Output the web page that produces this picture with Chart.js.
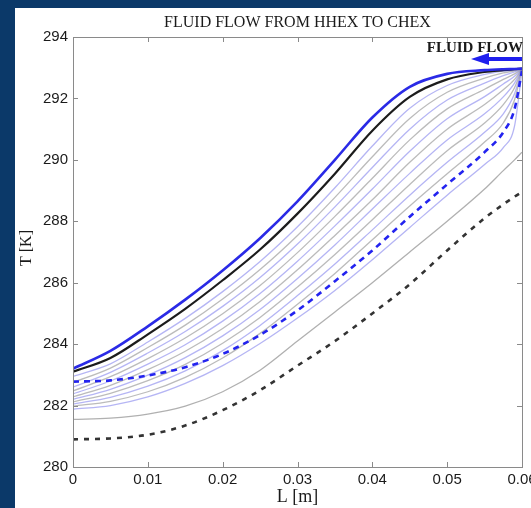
<!DOCTYPE html>
<html>
<head>
<meta charset="utf-8">
<script src="https://cdn.jsdelivr.net/npm/chart.js@4.4.1/dist/chart.umd.min.js"></script>
<style>
  html, body { margin: 0; padding: 0; background: #0b3969; }
</style>
</head>
<body>
<canvas id="chart" width="531" height="508"></canvas>
<script>
// Temperature profiles along the regenerator, flow from HHEX to CHEX
var xPos = [0, 0.005, 0.01, 0.015, 0.02, 0.025, 0.03, 0.035, 0.04, 0.045, 0.05, 0.055, 0.0575, 0.059, 0.06];
var xTicks = [0, 0.01, 0.02, 0.03, 0.04, 0.05, 0.06];
var yTicks = [280, 282, 284, 286, 288, 290, 292, 294];

// heavy curves
var tBlueTop   = [283.2, 283.78, 284.58, 285.45, 286.4, 287.45, 288.65, 290.0, 291.38, 292.38, 292.8, 292.92, 292.95, 292.96, 292.97];
var tBlack     = [283.1, 283.55, 284.32, 285.15, 286.08, 287.08, 288.25, 289.55, 290.95, 292.05, 292.62, 292.86, 292.92, 292.95, 292.97];
var tBlueDash  = [282.78, 282.82, 282.98, 283.25, 283.68, 284.3, 285.1, 286.05, 287.05, 288.15, 289.2, 290.25, 290.9, 291.65, 292.9];
var tGrayLow   = [281.55, 281.59, 281.72, 281.98, 282.45, 283.15, 284.1, 285.05, 286.0, 287.0, 288.0, 289.05, 289.65, 290.0, 290.25];
var tBlackDash = [280.9, 280.93, 281.05, 281.35, 281.85, 282.5, 283.3, 284.1, 285.0, 285.95, 287.05, 288.1, 288.55, 288.8, 288.95];

// thin intermediate curves (top to bottom)
var tFan1  = [282.95, 283.36, 284.07, 284.84, 285.71, 286.69, 287.82, 289.09, 290.45, 291.68, 292.42, 292.78, 292.89, 292.93, 292.96];
var tFan2  = [282.75, 283.22, 283.89, 284.62, 285.47, 286.43, 287.54, 288.78, 290.1, 291.35, 292.2, 292.66, 292.83, 292.9, 292.96];
var tFan3  = [282.6, 283.08, 283.71, 284.41, 285.23, 286.17, 287.26, 288.47, 289.75, 291.0, 291.95, 292.5, 292.74, 292.86, 292.96];
var tFan4  = [282.48, 282.94, 283.53, 284.2, 284.99, 285.91, 286.98, 288.16, 289.4, 290.65, 291.66, 292.3, 292.62, 292.8, 292.96];
var tFan5  = [282.38, 282.8, 283.35, 283.98, 284.75, 285.65, 286.7, 287.85, 289.05, 290.28, 291.34, 292.06, 292.47, 292.72, 292.96];
var tFan6  = [282.28, 282.66, 283.17, 283.77, 284.51, 285.39, 286.42, 287.54, 288.7, 289.92, 291.0, 291.8, 292.28, 292.62, 292.96];
var tFan7  = [282.2, 282.53, 282.99, 283.56, 284.27, 285.13, 286.14, 287.23, 288.4, 289.56, 290.65, 291.5, 292.05, 292.5, 292.96];
var tFan8  = [282.12, 282.4, 282.81, 283.34, 284.03, 284.87, 285.86, 286.92, 288.05, 289.2, 290.3, 291.2, 291.8, 292.35, 292.96];
var tFan9  = [282.05, 282.27, 282.63, 283.13, 283.79, 284.61, 285.58, 286.61, 287.72, 288.85, 289.92, 290.9, 291.5, 292.15, 292.96];
var tFan10 = [281.98, 282.14, 282.45, 282.92, 283.55, 284.35, 285.3, 286.3, 287.4, 288.5, 289.55, 290.58, 291.2, 291.95, 292.96];
var tFan11 = [281.88, 282.0, 282.28, 282.72, 283.3, 284.02, 284.85, 285.75, 286.75, 287.8, 288.85, 289.85, 290.4, 291.1, 292.9];

var fanCurves = [tFan1, tFan2, tFan3, tFan4, tFan5, tFan6, tFan7, tFan8, tFan9, tFan10, tFan11];

var NAVY = '#0b3969';
var BOX = '#8a8a8a';

function pts(ys) {
  return xPos.map(function(x, i) { return { x: x, y: ys[i] }; });
}

function line(ys, color, width, dash) {
  return {
    data: pts(ys),
    borderColor: color,
    borderWidth: width,
    borderDash: dash || [],
    pointRadius: 0,
    fill: false,
    cubicInterpolationMode: 'monotone'
  };
}

// first dataset is drawn on top
var datasets = [
  line(tBlueTop, '#2a2ae6', 2.6),
  line(tBlack, '#1c1c1c', 2.2),
  line(tBlueDash, '#2323ef', 2.6, [6, 5]),
  line(tBlackDash, '#333333', 2.6, [5, 6]),
  line(tGrayLow, 'rgba(150,150,150,0.75)', 1.3)
];
fanCurves.forEach(function(ys, i) {
  var col = (i % 2 === 0) ? 'rgba(120,120,235,0.55)' : 'rgba(150,150,150,0.65)';
  datasets.push(line(ys, col, 1.3));
});

// background, box with inward ticks, and the texts
var framePlugin = {
  id: 'frame',
  beforeDraw: function(chart) {
    var ctx = chart.ctx;
    ctx.save();
    ctx.fillStyle = NAVY;
    ctx.fillRect(0, 0, chart.width, chart.height);
    ctx.fillStyle = '#ffffff';
    ctx.fillRect(15, 8, chart.width - 15, chart.height - 8);
    ctx.restore();
  },
  afterDatasetsDraw: function(chart) {
    var ctx = chart.ctx;
    var a = chart.chartArea;
    var xs = chart.scales.x, ys = chart.scales.y;
    ctx.save();
    ctx.strokeStyle = BOX;
    ctx.lineWidth = 1;
    ctx.strokeRect(a.left + 0.5, a.top + 0.5, a.right - a.left, a.bottom - a.top);
    ctx.beginPath();
    xTicks.forEach(function(v) {
      var px = Math.round(xs.getPixelForValue(v)) + 0.5;
      ctx.moveTo(px, a.bottom); ctx.lineTo(px, a.bottom - 5);
      ctx.moveTo(px, a.top); ctx.lineTo(px, a.top + 5);
    });
    yTicks.forEach(function(v) {
      var py = Math.round(ys.getPixelForValue(v)) + 0.5;
      ctx.moveTo(a.left, py); ctx.lineTo(a.left + 5, py);
      ctx.moveTo(a.right, py); ctx.lineTo(a.right - 5, py);
    });
    ctx.stroke();

    // flow direction label and arrow
    ctx.fillStyle = '#1a1a1a';
    ctx.font = 'bold 15px "Liberation Serif"';
    ctx.textAlign = 'right';
    ctx.textBaseline = 'alphabetic';
    ctx.fillText('FLUID FLOW', a.right + 1, 52);
    ctx.fillStyle = '#1f1fee';
    ctx.fillRect(486, 57, a.right - 486, 4);
    ctx.beginPath();
    ctx.moveTo(471, 59);
    ctx.lineTo(489, 53);
    ctx.lineTo(489, 65);
    ctx.closePath();
    ctx.fill();
    ctx.restore();
  },
  afterDraw: function(chart) {
    var ctx = chart.ctx;
    var a = chart.chartArea;
    var cx = (a.left + a.right) / 2;
    ctx.save();
    ctx.fillStyle = '#1a1a1a';
    ctx.textAlign = 'center';
    ctx.textBaseline = 'alphabetic';
    ctx.font = '16px "Liberation Serif"';
    ctx.fillText('FLUID FLOW FROM HHEX TO CHEX', cx, 27);
    ctx.font = '18px "Liberation Serif"';
    ctx.fillText('L [m]', cx, 502);
    ctx.translate(31, 248);
    ctx.rotate(-Math.PI / 2);
    ctx.font = '16px "Liberation Serif"';
    ctx.fillText('T [K]', 0, 0);
    ctx.restore();
  }
};

new Chart(document.getElementById('chart'), {
  type: 'line',
  data: { datasets: datasets },
  plugins: [framePlugin],
  options: {
    responsive: false,
    animation: false,
    layout: { padding: { left: 15, top: 37, right: 9, bottom: 0 } },
    plugins: {
      legend: { display: false },
      title: { display: false },
      tooltip: { enabled: false }
    },
    scales: {
      x: {
        type: 'linear',
        min: 0,
        max: 0.06,
        afterBuildTicks: function(scale) {
          scale.ticks = xTicks.map(function(v) { return { value: v }; });
        },
        afterFit: function(scale) {
          scale.height = 41;
          scale.paddingLeft = 0;
          scale.paddingRight = 0;
        },
        grid: { display: false, drawTicks: false },
        border: { display: false },
        ticks: {
          autoSkip: false,
          maxRotation: 0,
          padding: 4,
          color: '#1a1a1a',
          font: { family: '"Liberation Sans", Arial', size: 15 },
          callback: function(v) { return v === 0 ? '0' : v.toFixed(2); }
        }
      },
      y: {
        type: 'linear',
        min: 280,
        max: 294,
        afterBuildTicks: function(scale) {
          scale.ticks = yTicks.map(function(v) { return { value: v }; });
        },
        afterFit: function(scale) {
          scale.width = 58;
          scale.paddingTop = 0;
          scale.paddingBottom = 0;
        },
        grid: { display: false, drawTicks: false },
        border: { display: false },
        ticks: {
          padding: 5,
          color: '#1a1a1a',
          font: { family: '"Liberation Sans", Arial', size: 15 },
          callback: function(v) { return String(v); }
        }
      }
    }
  }
});
</script>
</body>
</html>
